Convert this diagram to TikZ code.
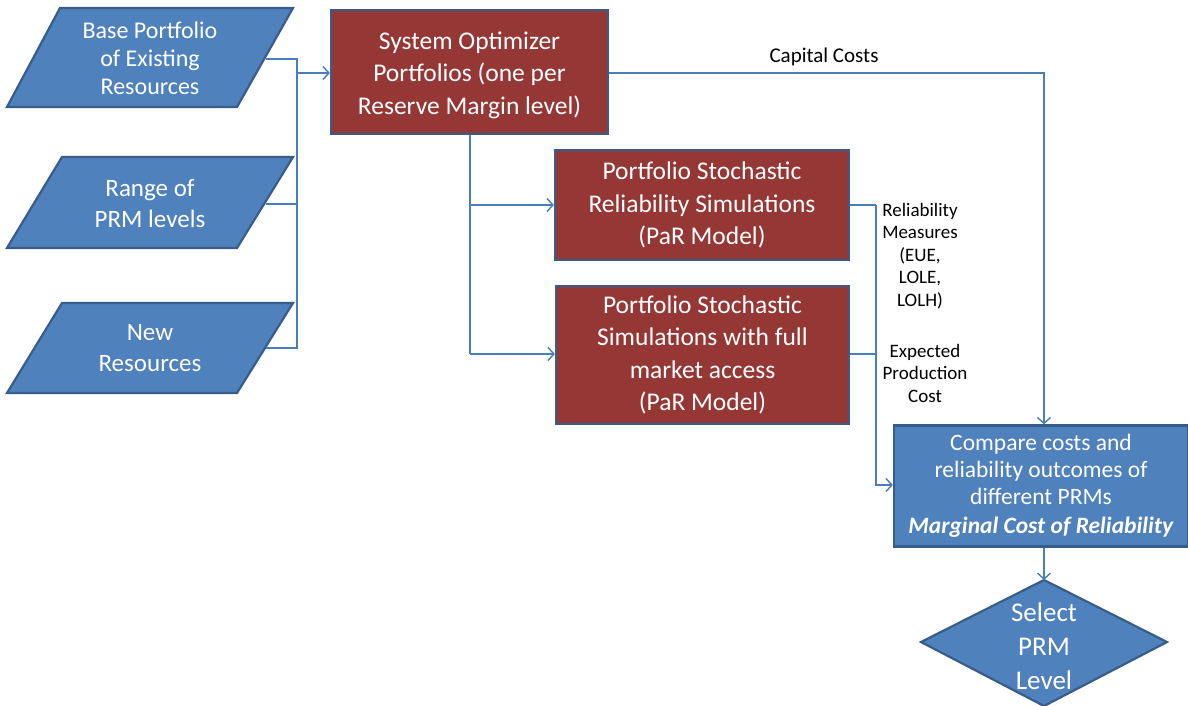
\documentclass[tikz,border=0pt]{standalone}
\usepackage{fontspec}
\setmainfont{Carlito}
\usetikzlibrary{arrows.meta}
\definecolor{boxred}{HTML}{953735}
\definecolor{boxblue}{HTML}{4F81BD}
\definecolor{edgeblue}{HTML}{385D8A}
\definecolor{wireblue}{HTML}{4A7EBB}
\tikzset{
  shapeline/.style={draw=edgeblue, line width=2.2pt},
  redbox/.style={shapeline, fill=boxred, text=white, align=center, inner sep=0pt,
    font=\fontsize{25.5}{32.5}\selectfont},
  bluebox/.style={shapeline, fill=boxblue, text=white, align=center, inner sep=0pt,
    font=\fontsize{23.5}{27}\selectfont},
  intext/.style={text=white, align=center, font=\fontsize{25}{31}\selectfont},
  note/.style={text=black, align=center, font=\fontsize{19}{22.5}\selectfont},
  wire/.style={draw=wireblue, line width=1.4pt},
  arr/.style={wire, -{Straight Barb[length=6pt, width=13pt, line width=1.4pt]}},
}
\begin{document}
\begin{tikzpicture}[x=1pt, y=-1pt]
\useasboundingbox (0,0) rectangle (1188,706);

% input parallelograms
\draw[shapeline, fill=boxblue] (60,8) -- (293,8) -- (237,107) -- (7,107) -- cycle;
\node[intext, font=\fontsize{24}{28}\selectfont] (base) at (150,58) {Base Portfolio\\of Existing\\Resources};
\draw[shapeline, fill=boxblue] (62,157) -- (293,157) -- (237,248) -- (7,248) -- cycle;
\node[intext] (range) at (150,204) {Range of\\PRM levels};
\draw[shapeline, fill=boxblue] (62,303) -- (293,303) -- (237,393) -- (7,393) -- cycle;
\node[intext] (new) at (150,348) {New\\Resources};
\coordinate (baseE) at (266,59);
\coordinate (rangeE) at (266,204);
\coordinate (newE) at (266,348);
\coordinate (join) at (297,73);

% process boxes
\node[redbox, minimum width=277pt, minimum height=124pt] (opt) at (469.5,72) {};
\node[redbox, fill=none, draw=none] (optt) at (469.5,75)
  {System Optimizer\\Portfolios (one per\\Reserve Margin level)};
\node[redbox, minimum width=294pt, minimum height=110pt] (rel) at (702,205)
  {Portfolio Stochastic\\Reliability Simulations\\(PaR Model)};
\node[redbox, minimum width=293pt, minimum height=138pt] (sim) at (702.5,355)
  {Portfolio Stochastic\\Simulations with full\\market access\\(PaR Model)};
\node[bluebox, minimum width=294pt, minimum height=121pt] (cmp) at (1041,486)
  {Compare costs and\\reliability outcomes of\\different PRMs\\[2pt]\textbf{\textit{Marginal Cost of Reliability}}};

% decision diamond
\coordinate (sel) at (1044,642);
\draw[shapeline, fill=boxblue] (1044,580) -- (1167,642) -- (1044,706) -- (921,642) -- cycle;
\node[intext, font=\fontsize{27}{34}\selectfont] (selt) at (1044,646) {Select\\PRM\\Level};
\coordinate (selN) at (1044,580);

% inputs merge into the optimizer
\draw[wire] (baseE) -- (297,59) -- (297,348) -- (newE);
\draw[wire] (rangeE) -- (297,204);
\draw[arr] (join) -- (join -| opt.west);

% optimizer fans out to the two simulations
\coordinate (spine) at (470,354);
\draw[wire] (opt.south -| spine) -- (spine);
\draw[arr] (470,205) -- (rel.west);
\draw[arr] (spine) -- (spine -| sim.west);

% capital costs straight to the comparison
\draw[arr] (opt.east |- 0,73) -- (1044,73) -- (cmp.north -| 1044,0);
\node[note, font=\fontsize{21}{24}\selectfont, anchor=base] (cap) at (824,63) {Capital Costs};

% simulation results to the comparison
\draw[wire] (rel.east) -- (876,205);
\draw[arr] (sim.east |- 0,354) -- (876,354) -- (876,485) -- (cmp.west |- 0,485);
\draw[wire] (876,205) -- (876,354);
\node[note] (relm) at (920,256) {Reliability\\Measures\\(EUE,\\LOLE,\\LOLH)};
\node[note] (prod) at (925,373) {Expected\\Production\\Cost};

% comparison to the decision
\draw[arr] (cmp.south -| selN) -- (selN);
\end{tikzpicture}
\end{document}
